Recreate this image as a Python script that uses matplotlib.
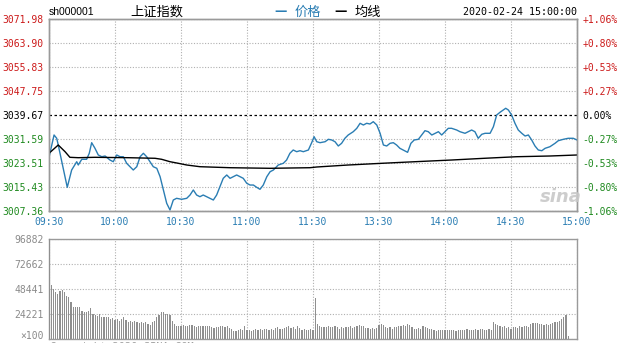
import matplotlib
matplotlib.use("Agg")
import matplotlib.pyplot as plt

plt.rcParams['font.family'] = ['DejaVu Sans', 'Noto Sans CJK SC']

# ---- 数据 ----
prev_close = 3039.67
price_ticks = [3007.36, 3015.43, 3023.51, 3031.59, 3039.67, 3047.75, 3055.83, 3063.90, 3071.98]
pct_labels = ['-1.06%', '-0.80%', '-0.53%', '-0.27%', '0.00%', '+0.27%', '+0.53%', '+0.80%', '+1.06%']
time_labels = ['09:30', '10:00', '10:30', '11:00', '11:30', '13:30', '14:00', '14:30', '15:00']

# 价格 (分钟, 点位)
price_min = [0, 2.3, 3.5, 4.2, 8.3, 10.3, 12.6, 13.3, 14.9, 17.1, 18.3, 19.4, 20.9, 22.4, 24, 25.5,
             27.7, 29.2, 30.8, 32.3, 33.8, 35.3, 36.8, 38.3, 39.9, 41.4, 42.9, 44.4, 45.9, 47.4,
             49, 50.5, 52, 53.5, 55, 56.5, 58, 60.3, 62.6, 64.1, 65.6, 67.1, 68.6, 70.1, 71.7,
             73.2, 74.7, 76.2, 77.7, 79.2, 80.8, 82.3, 83.8, 85.3, 86.8, 88.3, 89.9, 91.4, 92.9,
             94.4, 95.9, 97.4, 99, 100.5, 102, 104.2, 106.5, 108, 109.5, 111, 112.6, 114.1, 115.6,
             117.9, 119.4, 120.5, 121.7, 123.2, 125.5, 127, 128.5, 130, 131.5, 133, 134.5, 136,
             138.3, 139.9, 141.4, 142.9, 144.4, 145.9, 147.4, 149, 150.5, 152, 153.5, 155, 156.5,
             158, 159.5, 161, 163, 164.5, 166, 167.9, 169.4, 170.9, 172.4, 174, 175.5, 177, 178.5,
             180, 181.5, 183, 185.3, 186.8, 189.1, 190.6, 192.1, 193.6, 195.1, 196.7, 198.2, 200.5,
             202, 203.5, 205, 206.5, 207.6, 208.8, 210.3, 211.8, 213.3, 214.9, 216.4, 217.9, 219.4,
             220.9, 222.4, 224, 225.5, 227.7, 230, 231.5, 233.8, 236, 238.3, 240]
price_val = [3025.43, 3032.94, 3031.83, 3029.57, 3015.33, 3021.16, 3023.95, 3022.84, 3024.76, 3024.76,
             3026.78, 3030.35, 3028.46, 3026.21, 3025.63, 3025.87, 3024.52, 3023.95, 3026.21, 3025.63,
             3025.63, 3023.41, 3022.27, 3021.16, 3022.27, 3025.63, 3026.78, 3025.63, 3023.95, 3022.27,
             3021.73, 3018.90, 3014.43, 3009.95, 3007.70, 3011.06, 3011.63, 3011.30, 3011.63, 3012.74,
             3014.43, 3012.74, 3012.17, 3012.74, 3012.17, 3011.63, 3011.06, 3012.74, 3015.54, 3018.36,
             3019.48, 3018.36, 3018.90, 3019.48, 3018.90, 3018.36, 3016.68, 3016.10, 3016.10, 3015.33,
             3014.66, 3016.10, 3018.90, 3020.58, 3021.16, 3022.84, 3023.41, 3024.52, 3026.78, 3027.89,
             3027.32, 3027.65, 3027.32, 3027.89, 3030.35, 3032.37, 3030.68, 3030.35, 3030.68, 3031.49,
             3031.26, 3030.68, 3029.24, 3030.14, 3031.83, 3032.94, 3034.05, 3035.19, 3036.88, 3036.30,
             3036.88, 3036.64, 3037.42, 3036.30, 3033.51, 3029.57, 3029.24, 3030.14, 3030.35, 3029.57,
             3028.46, 3027.89, 3027.11, 3030.14, 3031.26, 3031.49, 3032.94, 3034.39, 3034.05, 3032.94,
             3033.51, 3034.05, 3032.94, 3034.05, 3035.19, 3035.19, 3034.62, 3034.05, 3033.51, 3034.05,
             3034.62, 3034.05, 3031.83, 3033.17, 3033.51, 3033.51, 3035.73, 3039.67, 3040.58, 3041.35,
             3041.93, 3041.35, 3039.67, 3036.88, 3034.62, 3033.51, 3032.60, 3032.94, 3031.26, 3029.24,
             3027.89, 3027.65, 3028.46, 3029.00, 3030.14, 3031.02, 3031.49, 3031.83, 3031.83, 3031.26]

# 均线
avg_min = [0, 4.2, 7.3, 9.5, 13.3, 20.9, 36, 48.2, 51.2, 55, 58.8, 62.6, 68.6, 82.3, 100.5,
           118.6, 121.7, 136, 151.2, 166.4, 183, 197.9, 212.6, 227.7, 240]
avg_val = [3026.78, 3029.57, 3027.32, 3025.43, 3025.30, 3025.43, 3025.30, 3025.10, 3024.76, 3023.95,
           3023.41, 3022.84, 3022.27, 3021.93, 3021.73, 3021.93, 3022.17, 3022.84, 3023.41, 3023.95,
           3024.52, 3025.10, 3025.63, 3025.87, 3026.21]

# 成交量 (x100), 上午从 09:30 开始, 下午从 13:01 开始
vol_am = [96882, 52300, 48450, 45220, 43610, 46840, 47800, 45220, 41990, 40380, 35530,
          31330, 31330, 30690, 31330, 27460, 25840, 26490, 27460, 29720, 24230,
          23580, 22610, 24230, 21640, 21640, 21000, 21000, 19380, 20350, 18730,
          19380, 17770, 19380, 21000, 18730, 16150, 17770, 16150, 17770, 16800,
          15500, 16800, 15500, 16150, 14540, 13570, 16150, 17770, 21000, 23260,
          25840, 26490, 23900, 24230, 23580, 17770, 14540, 12920, 12920, 12270,
          13570, 12270, 12920, 13570, 13570, 12270, 11310, 12270, 12270, 12920,
          12270, 12270, 12920, 11310, 10340, 11950, 11310, 12270, 12270, 11310,
          12920, 10340, 9690, 8080, 8080, 9040, 9690, 9040, 12270, 9040,
          9040, 8080, 8720, 9690, 9040, 9690, 9040, 9690, 9690, 9040,
          9690, 9040, 10340, 11310, 9690, 9690, 10340, 11310, 12920, 10340,
          11310, 9690, 12270, 10340, 9040, 9690, 9040, 9040, 9690, 9040]
vol_pm = [39730, 14540, 12270, 11310, 11310, 11310, 12270, 11310, 11310, 12920,
          11310, 9690, 11310, 10340, 11310, 11310, 12270, 10340, 11310, 12270,
          13570, 12270, 12920, 10340, 10340, 9690, 10340, 9690, 10340, 13570,
          14540, 13570, 11310, 10340, 11310, 9690, 11310, 11310, 12270, 12920,
          13570, 12270, 14540, 13570, 11310, 9690, 9690, 10340, 9690, 12270,
          11310, 10340, 9690, 9690, 9040, 8080, 8720, 8720, 9040, 9040,
          8720, 9040, 8720, 8720, 8080, 8720, 9040, 8720, 9040, 9690,
          9040, 8720, 9040, 9690, 9040, 9690, 9690, 9040, 9040, 9690,
          9040, 16150, 14540, 13570, 12270, 11310, 12270, 10340, 11310, 9690,
          11310, 11310, 10340, 12270, 11310, 12920, 12270, 11310, 14540, 15500,
          15500, 15500, 14540, 14540, 13570, 14540, 13570, 14540, 15500, 16150,
          16150, 17770, 19380, 21000, 23260, 2580]
vol_max = 96882
vol_ticks = [0, 24221, 48441, 72662, 96882]
vol_labels = ['\u00d7100', '24221', '48441', '72662', '96882']

# ---- 样式 ----
W, H = 620, 343
RED = '#cc1a1a'
GREEN = '#1f8a1f'
BLUE = '#2a7db3'
GRID = '#b0b0b0'
FRAME = '#9a9a9a'
MONO = 'DejaVu Sans Mono'
FS = 7

fig = plt.figure(figsize=(W / 100, H / 100), dpi=100)
fig.patch.set_facecolor('white')


def px_axes(x0, y0, x1, y1):
    return fig.add_axes([x0 / W, 1 - y1 / H, (x1 - x0) / W, (y1 - y0) / H])


ax = px_axes(49, 19, 577, 211)
axv = px_axes(49, 239, 577, 339)

xt = [i * 30 for i in range(9)]

# 价格面板
ax.plot(price_min, price_val, color=BLUE, lw=1.0, zorder=3)
ax.plot(avg_min, avg_val, color='black', lw=1.0, zorder=3)
ax.axhline(prev_close, color='black', lw=0.9, ls=(0, (2, 2)), zorder=2)
ax.set_xlim(0, 240)
ax.set_ylim(price_ticks[0], price_ticks[-1])
ax.set_xticks(xt)
ax.set_xticklabels(time_labels, fontfamily=MONO, fontsize=FS, color=BLUE)
ax.set_yticks(price_ticks)
ax.set_yticklabels(['%.2f' % p for p in price_ticks], fontfamily=MONO, fontsize=FS)
for lab, p in zip(ax.get_yticklabels(), price_ticks):
    lab.set_color(RED if p > prev_close else (GREEN if p < prev_close else 'black'))
ax.tick_params(length=0, pad=4)
ax.grid(True, color=GRID, ls=(0, (1, 1.5)), lw=0.8)
for ln in ax.get_ygridlines():
    if abs(ln.get_ydata()[0] - prev_close) < 0.01:
        ln.set_visible(False)

ax2 = ax.twinx()
ax2.set_ylim(price_ticks[0], price_ticks[-1])
ax2.set_yticks(price_ticks)
ax2.set_yticklabels(pct_labels, fontfamily=MONO, fontsize=FS)
for lab, p in zip(ax2.get_yticklabels(), price_ticks):
    lab.set_color(RED if p > prev_close else (GREEN if p < prev_close else 'black'))
ax2.tick_params(length=0, pad=4)

for a in (ax, ax2, axv):
    for s in a.spines.values():
        s.set_color(FRAME)
        s.set_linewidth(1.0)

# 成交量面板
vol_x = list(range(len(vol_am))) + [121 + i for i in range(len(vol_pm))]
axv.bar(vol_x, vol_am + vol_pm, width=0.55, color='#8f8f8f', zorder=3)
axv.set_xlim(0, 240)
axv.set_ylim(0, vol_max)
axv.set_xticks(xt)
axv.set_xticklabels([])
axv.set_yticks(vol_ticks)
axv.set_yticklabels(vol_labels, fontfamily=MONO, fontsize=FS, color='#8a8a8a')
axv.tick_params(length=0, pad=4)
axv.grid(True, color=GRID, ls=(0, (1, 1.5)), lw=0.8)
# ×100 贴着底边, 往上挪一点免得被裁掉
axv.get_yticklabels()[0].set_va('baseline')

# 标题行
def ftext(x, y, s, **kw):
    fig.text(x / W, 1 - y / H, s, va='center', **kw)

ftext(49, 12, 'sh000001', fontsize=7.5, color='black', family='Liberation Sans')
ftext(130, 12, '上证指数', fontsize=9.5, color='black', family=['Noto Sans CJK SC'])
ftext(274, 12, '\u2014', fontsize=9, color=BLUE, fontweight='bold')
ftext(295, 12, '价格', fontsize=9.5, color=BLUE, family=['Noto Sans CJK SC'])
ftext(334, 12, '\u2014', fontsize=9, color='black', fontweight='bold')
ftext(355, 12, '均线', fontsize=9.5, color='black', family=['Noto Sans CJK SC'])
ftext(577, 12, '2020-02-24 15:00:00', fontsize=7.2, color='black', family=MONO, ha='right')

# 水印
ftext(561, 197, 'sina', fontsize=13, color='#c8c8c8', style='italic', fontweight='bold',
      ha='center', alpha=0.9)
ftext(50, 347, 'Copyright 2020 SINA.COM', fontsize=7.5, color='#a0a0a0', family=MONO)

fig.savefig('out.png', dpi=100)
